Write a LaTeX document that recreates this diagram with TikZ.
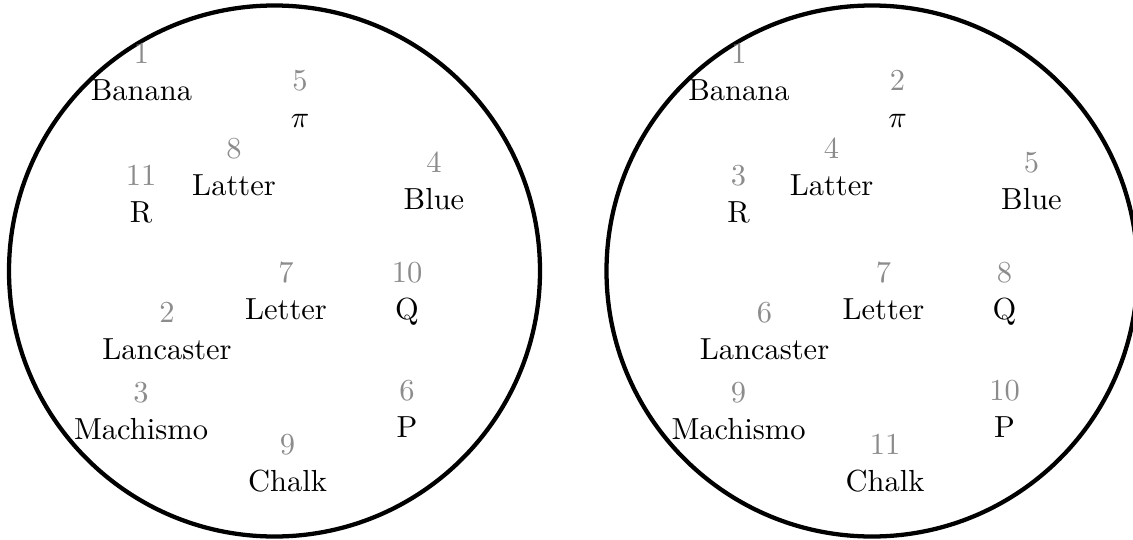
\documentclass[tikz,border=0pt]{standalone}
\usepackage{xcolor}
\begin{document}
\begin{tikzpicture}[x=0.328pt,y=-0.328pt,
  ring/.style={line width=1.4pt, draw=black},
  word/.style={anchor=base, inner sep=0pt, text=black},
  num/.style={anchor=base, inner sep=0pt, text=black!45}]
\useasboundingbox (0,0) rectangle (1133,540);
\clip (0,0) rectangle (1133,540);
% left circle
\node[circle, minimum size=0pt, inner sep=0pt] (Lc) at (274.5,271) {};
\draw[ring] (Lc) circle [radius=265.5];
\node[word] (Lbanana) at (141.5,100) {Banana};
\node[num] (Lbanana-n) at ([yshift=12pt]Lbanana.base) {1};
\node[word] (Lpi) at (300,127) {$\pi$};
\node[num] (Lpi-n) at ([yshift=12pt]Lpi.base) {5};
\node[word] (Llatter) at (234,195) {Latter};
\node[num] (Llatter-n) at ([yshift=12pt]Llatter.base) {8};
\node[word] (Lr) at (141,222) {R};
\node[num] (Lr-n) at ([yshift=12pt]Lr.base) {11};
\node[word] (Lblue) at (434,209) {Blue};
\node[num] (Lblue-n) at ([yshift=12pt]Lblue.base) {4};
\node[word] (Lletter) at (286,319) {Letter};
\node[num] (Lletter-n) at ([yshift=12pt]Lletter.base) {7};
\node[word] (Lq) at (407,319) {Q};
\node[num] (Lq-n) at ([yshift=12pt]Lq.base) {10};
\node[word] (Llancaster) at (167,359) {Lancaster};
\node[num] (Llancaster-n) at ([yshift=12pt]Llancaster.base) {2};
\node[word] (Lmachismo) at (141,439) {Machismo};
\node[num] (Lmachismo-n) at ([yshift=12pt]Lmachismo.base) {3};
\node[word] (Lp) at (407,437) {P};
\node[num] (Lp-n) at ([yshift=12pt]Lp.base) {6};
\node[word] (Lchalk) at (287.5,491) {Chalk};
\node[num] (Lchalk-n) at ([yshift=12pt]Lchalk.base) {9};
% right circle
\begin{scope}[xshift=597.5*0.328pt]
\node[circle, minimum size=0pt, inner sep=0pt] (Rc) at (274.5,271) {};
\draw[ring] (Rc) circle [radius=265.5];
\node[word] (Rbanana) at (141.5,100) {Banana};
\node[num] (Rbanana-n) at ([yshift=12pt]Rbanana.base) {1};
\node[word] (Rpi) at (300,127) {$\pi$};
\node[num] (Rpi-n) at ([yshift=12pt]Rpi.base) {2};
\node[word] (Rlatter) at (234,195) {Latter};
\node[num] (Rlatter-n) at ([yshift=12pt]Rlatter.base) {4};
\node[word] (Rr) at (141,222) {R};
\node[num] (Rr-n) at ([yshift=12pt]Rr.base) {3};
\node[word] (Rblue) at (434,209) {Blue};
\node[num] (Rblue-n) at ([yshift=12pt]Rblue.base) {5};
\node[word] (Rletter) at (286,319) {Letter};
\node[num] (Rletter-n) at ([yshift=12pt]Rletter.base) {7};
\node[word] (Rq) at (407,319) {Q};
\node[num] (Rq-n) at ([yshift=12pt]Rq.base) {8};
\node[word] (Rlancaster) at (167,359) {Lancaster};
\node[num] (Rlancaster-n) at ([yshift=12pt]Rlancaster.base) {6};
\node[word] (Rmachismo) at (141,439) {Machismo};
\node[num] (Rmachismo-n) at ([yshift=12pt]Rmachismo.base) {9};
\node[word] (Rp) at (407,437) {P};
\node[num] (Rp-n) at ([yshift=12pt]Rp.base) {10};
\node[word] (Rchalk) at (287.5,491) {Chalk};
\node[num] (Rchalk-n) at ([yshift=12pt]Rchalk.base) {11};
\end{scope}
\end{tikzpicture}
\end{document}
